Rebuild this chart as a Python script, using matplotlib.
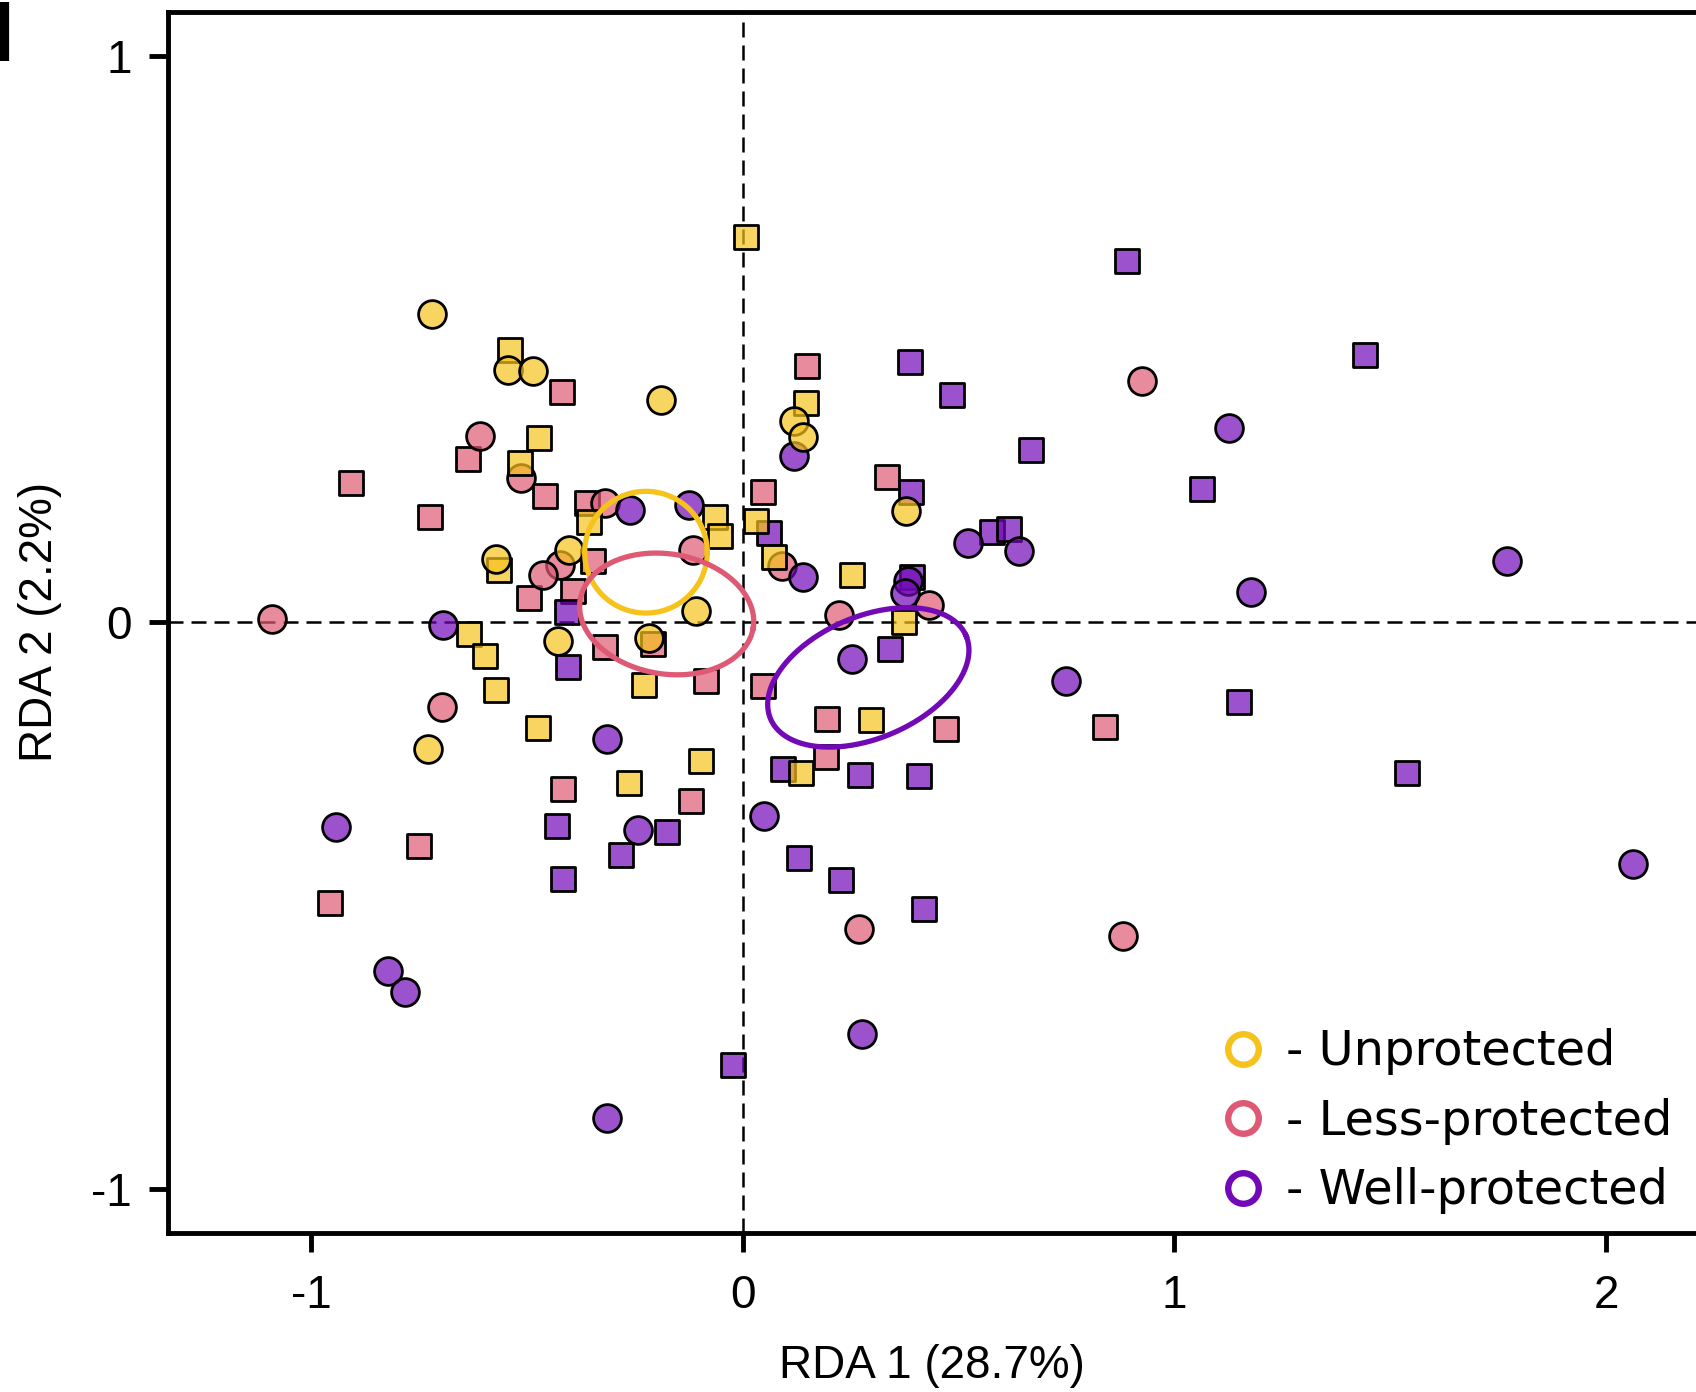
import numpy as np
import matplotlib
matplotlib.use("Agg")
import matplotlib.pyplot as plt
from matplotlib.lines import Line2D

# --- data: RDA site scores ---
unprot_circ_x = [-0.719, -0.544, -0.486, -0.189, -0.571, -0.402, -0.428, -0.216, -0.108, -0.729, 0.120, 0.140, 0.379]
unprot_circ_y = [0.544, 0.445, 0.444, 0.393, 0.112, 0.127, -0.033, -0.027, 0.021, -0.223, 0.355, 0.327, 0.197]
unprot_sq_x = [0.008, -0.538, -0.472, -0.515, -0.355, -0.065, -0.053, -0.565, -0.635, -0.596, -0.571,
               -0.474, -0.229, -0.097, -0.263, 0.146, 0.032, 0.072, 0.253, 0.373, 0.298, 0.134]
unprot_sq_y = [0.681, 0.481, 0.326, 0.281, 0.177, 0.186, 0.152, 0.093, -0.020, -0.059, -0.119,
               -0.186, -0.110, -0.245, -0.283, 0.387, 0.179, 0.116, 0.084, 0.000, -0.172, -0.266]

less_circ_x = [-0.608, -0.513, -0.318, -0.115, -0.424, -0.463, -1.091, -0.697, 0.092, 0.432, 0.223, 0.925, 0.269, 0.881]
less_circ_y = [0.330, 0.255, 0.211, 0.127, 0.102, 0.083, 0.006, -0.149, 0.099, 0.030, 0.014, 0.426, -0.541, -0.554]
less_sq_x = [-0.419, -0.637, -0.906, -0.457, -0.725, -0.361, -0.347, -0.393, -0.494, -0.320, -0.208, -0.084,
             -0.415, -0.119, -0.750, -0.955, 0.149, 0.047, 0.334, 0.047, 0.195, 0.470, 0.839, 0.194]
less_sq_y = [0.406, 0.289, 0.246, 0.223, 0.186, 0.211, 0.108, 0.055, 0.044, -0.044, -0.038, -0.104,
             -0.294, -0.316, -0.394, -0.496, 0.452, 0.230, 0.256, -0.113, -0.170, -0.188, -0.185, -0.237]

well_circ_x = [-0.260, -0.125, -0.694, -0.314, -0.943, -0.243, -0.822, -0.781, -0.315, 0.119, 0.140, 0.521,
               0.639, 0.383, 0.377, 0.254, 0.748, 0.049, 0.276, 1.127, 1.771, 1.177, 2.063]
well_circ_y = [0.198, 0.208, -0.004, -0.206, -0.362, -0.367, -0.616, -0.652, -0.875, 0.294, 0.080, 0.141,
               0.126, 0.073, 0.052, -0.065, -0.104, -0.341, -0.726, 0.344, 0.109, 0.053, -0.426]
well_sq_x = [-0.407, -0.405, -0.430, -0.175, -0.281, -0.415, -0.023, 0.388, 0.485, 0.667, 0.391, 0.062, 0.577,
             0.617, 0.392, 0.342, 0.093, 0.272, 0.409, 0.130, 0.227, 0.419, 0.890, 1.441, 1.065, 1.150, 1.538]
well_sq_y = [0.019, -0.078, -0.360, -0.370, -0.410, -0.453, -0.782, 0.460, 0.402, 0.304, 0.230, 0.158, 0.160,
             0.165, 0.081, -0.047, -0.258, -0.270, -0.272, -0.416, -0.455, -0.506, 0.638, 0.472, 0.236, -0.141, -0.265]

# group ellipses: centre, semi-axes (in x-axis units), tilt (deg, on screen)
ell_cx = [-0.224, -0.176, 0.291]
ell_cy = [0.124, 0.015, -0.097]
ell_a = [0.142, 0.203, 0.246]
ell_b = [0.141, 0.139, 0.141]
ell_ang = [0.0, -9.2, 23.0]

groups = ["Unprotected", "Less-protected", "Well-protected"]

# --- style ---
C_UN = "#F6C21C"
C_LESS = "#DE5A74"
C_WELL = "#7209B7"
ALPHA = 0.7
TICK_FONT = "Liberation Sans"
LEG_FONT = "DejaVu Sans"


def rgba(c, a):
    r, g, b, _ = matplotlib.colors.to_rgba(c)
    return (r, g, b, a)


fig = plt.figure(figsize=(16.96, 13.92), dpi=100)
ax = fig.add_axes([0.0988, 0.1142, 0.9012, 0.8773])
ax.set_xlim(-1.332, 2.208)
ax.set_ylim(-1.078, 1.078)

ax.axhline(0, color="black", lw=1.8, dashes=(6, 3.2), zorder=1)
ax.axvline(0, color="black", lw=1.8, dashes=(6, 3.2), zorder=1)

S_CIRC, S_SQ, EW = 400, 300, 2.0
point_sets = [
    (less_circ_x, less_circ_y, less_sq_x, less_sq_y, C_LESS),
    (well_circ_x, well_circ_y, well_sq_x, well_sq_y, C_WELL),
    (unprot_circ_x, unprot_circ_y, unprot_sq_x, unprot_sq_y, C_UN),
]
for cx, cy, sx, sy, col in point_sets:
    ax.scatter(sx, sy, s=S_SQ, marker="s", facecolor=rgba(col, ALPHA),
               edgecolor="black", linewidth=EW, zorder=3)
    ax.scatter(cx, cy, s=S_CIRC, marker="o", facecolor=rgba(col, ALPHA),
               edgecolor="black", linewidth=EW, zorder=3)

# ellipses, built in screen space so the tilt matches the picture
x0, y0 = ax.transData.transform((0, 0))
x1, _ = ax.transData.transform((1, 0))
_, y1 = ax.transData.transform((0, 1))
px_x, px_y = x1 - x0, y1 - y0
t = np.linspace(0, 2 * np.pi, 300)
for cx, cy, a, b, ang, col in zip(ell_cx, ell_cy, ell_a, ell_b, ell_ang, [C_UN, C_LESS, C_WELL]):
    th = np.deg2rad(ang)
    dx = a * px_x * np.cos(t) * np.cos(th) - b * px_x * np.sin(t) * np.sin(th)
    dy = a * px_x * np.cos(t) * np.sin(th) + b * px_x * np.sin(t) * np.cos(th)
    ax.plot(cx + dx / px_x, cy + dy / px_y, color=col, lw=3.8, zorder=5)

# axes look
for side in ["left", "bottom", "top"]:
    ax.spines[side].set_linewidth(3.5)
ax.spines["right"].set_visible(False)
ax.set_xticks([-1, 0, 1, 2])
ax.set_yticks([-1, 0, 1])
ax.set_xticklabels(["-1", "0", "1", "2"], fontfamily=TICK_FONT, fontsize=33)
ax.set_yticklabels(["-1", "0", "1"], fontfamily=TICK_FONT, fontsize=33)
ax.tick_params(axis="both", length=13.5, width=3.5, direction="out")
ax.tick_params(axis="x", pad=16)
ax.tick_params(axis="y", pad=12)

ax.set_xlabel("RDA 1 (28.7%)", fontfamily=TICK_FONT, fontsize=33)
ax.set_ylabel("RDA 2 (2.2%)", fontfamily=TICK_FONT, fontsize=33)
ax.xaxis.set_label_coords(0.5, -0.091)
ax.yaxis.set_label_coords(-0.069, 0.5)

handles = [Line2D([], [], ls="none", marker="o", markersize=22, markerfacecolor="none",
                  markeredgecolor=c, markeredgewidth=4.6) for c in [C_UN, C_LESS, C_WELL]]
leg = ax.legend(handles, ["- " + g for g in groups], loc="center left",
                bbox_to_anchor=(0.6725, 0.0915), frameon=False, borderpad=0,
                handlelength=1.0, handletextpad=0.4, labelspacing=0.47,
                prop={"family": LEG_FONT, "size": 34.5})

fig.text(-0.006, 0.972, "I", fontfamily=TICK_FONT, fontweight="bold", fontsize=62,
         ha="left", va="center")

fig.savefig("out.png", dpi=100)
